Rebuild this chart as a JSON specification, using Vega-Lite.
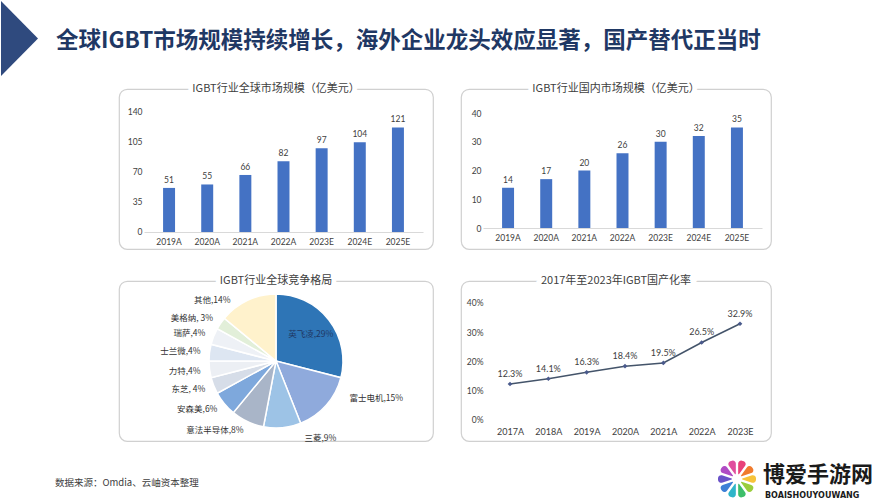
{
  "$schema": "https://vega.github.io/schema/vega-lite/v6.json",
  "background": "white",
  "padding": 0,
  "columns": 2,
  "spacing": {"row": 32, "column": 28},
  "bounds": "flush",
  "config": {
    "view": {"stroke": null},
    "font": "Noto Sans CJK SC",
    "axis": {"labelFont": "Lato", "labelColor": "#404040", "labelFontSize": 8.5, "grid": false, "ticks": false, "title": null}
  },
  "concat": [
    {
      "width": 314,
      "height": 160,
      "view": {"stroke": "#D0D0D0", "strokeWidth": 1.2, "cornerRadius": 8},
      "layer": [
        {
          "data": {"values": [
            {"year": "2019A", "v": 51}, {"year": "2020A", "v": 55}, {"year": "2021A", "v": 66},
            {"year": "2022A", "v": 82}, {"year": "2023E", "v": 97}, {"year": "2024E", "v": 104}, {"year": "2025E", "v": 121}
          ]},
          "encoding": {
            "x": {"field": "year", "type": "ordinal", "sort": null,
              "scale": {"range": [25, 304], "paddingInner": 0.686, "paddingOuter": 0.5},
              "axis": {"orient": "bottom", "offset": -17, "labelPadding": 5, "labelAngle": 0, "domain": true, "domainColor": "#D9D9D9"}},
            "y": {"field": "v", "type": "quantitative",
              "scale": {"domain": [-19.7, 165.5], "nice": false, "zero": false},
              "axis": {"values": [0, 35, 70, 105, 140], "offset": -27, "labelPadding": 4, "domain": false}}
          },
          "layer": [
            {"mark": {"type": "bar", "color": "#4472C4"}},
            {"mark": {"type": "text", "baseline": "bottom", "dy": -3, "font": "Lato", "fontSize": 8.5, "fill": "#404040"}, "encoding": {"text": {"field": "v"}}}
          ]
        },
        {"data": {"values": [{"t": "IGBT行业全球市场规模（亿美元）"}]}, "mark": {"type": "text", "x": 157, "y": 0, "align": "center", "baseline": "middle", "fontSize": 11, "fill": "white", "stroke": "white", "strokeWidth": 10}, "encoding": {"text": {"field": "t"}}},
        {"data": {"values": [{"t": "IGBT行业全球市场规模（亿美元）"}]}, "mark": {"type": "text", "x": 157, "y": 0, "align": "center", "baseline": "middle", "fontSize": 11, "fill": "#404040"}, "encoding": {"text": {"field": "t"}}},
        {"data": {"values": [{"t": "全球IGBT市场规模持续增长，海外企业龙头效应显著，国产替代正当时"}]}, "mark": {"type": "point", "shape": "M0,-1L0.987,0L0,1Z", "size": 5625, "filled": true, "fill": "#2F4A7E", "stroke": null, "opacity": 1, "x": -118, "y": -50.5}, "encoding": {}},
        {"data": {"values": [{"t": "全球IGBT市场规模持续增长，海外企业龙头效应显著，国产替代正当时"}]}, "mark": {"type": "text", "x": -63, "y": -48, "align": "left", "baseline": "middle", "fontSize": 22.5, "fontWeight": "bold", "fill": "#1F3864"}, "encoding": {"text": {"field": "t"}}}
      ]
    },
    {
      "width": 310,
      "height": 160,
      "view": {"stroke": "#D0D0D0", "strokeWidth": 1.2, "cornerRadius": 8},
      "layer": [
        {
          "data": {"values": [
            {"year": "2019A", "v": 14}, {"year": "2020A", "v": 17}, {"year": "2021A", "v": 20},
            {"year": "2022A", "v": 26}, {"year": "2023E", "v": 30}, {"year": "2024E", "v": 32}, {"year": "2025E", "v": 35}
          ]},
          "encoding": {
            "x": {"field": "year", "type": "ordinal", "sort": null,
              "scale": {"range": [22, 301], "paddingInner": 0.686, "paddingOuter": 0.5},
              "axis": {"orient": "bottom", "offset": -21, "labelPadding": 5, "labelAngle": 0, "domain": true, "domainColor": "#D9D9D9"}},
            "y": {"field": "v", "type": "quantitative",
              "scale": {"domain": [-7.3, 48.35], "nice": false, "zero": false},
              "axis": {"values": [0, 10, 20, 30, 40], "offset": -24, "labelPadding": 4, "domain": false}}
          },
          "layer": [
            {"mark": {"type": "bar", "color": "#4472C4"}},
            {"mark": {"type": "text", "baseline": "bottom", "dy": -3, "font": "Lato", "fontSize": 8.5, "fill": "#404040"}, "encoding": {"text": {"field": "v"}}}
          ]
        },
        {"data": {"values": [{"t": "IGBT行业国内市场规模（亿美元）"}]}, "mark": {"type": "text", "x": 155, "y": 0, "align": "center", "baseline": "middle", "fontSize": 11, "fill": "white", "stroke": "white", "strokeWidth": 10}, "encoding": {"text": {"field": "t"}}},
        {"data": {"values": [{"t": "IGBT行业国内市场规模（亿美元）"}]}, "mark": {"type": "text", "x": 155, "y": 0, "align": "center", "baseline": "middle", "fontSize": 11, "fill": "#404040"}, "encoding": {"text": {"field": "t"}}}
      ]
    },
    {
      "width": 314,
      "height": 160,
      "view": {"stroke": "#D0D0D0", "strokeWidth": 1.2, "cornerRadius": 8},
      "resolve": {"scale": {"theta": "independent"}},
      "layer": [
        {
          "data": {"values": [
            {"rank": 1, "company": "英飞凌", "share": 29, "label": "英飞凌,29%"},
            {"rank": 2, "company": "富士电机", "share": 15, "label": "富士电机,15%"},
            {"rank": 3, "company": "三菱", "share": 9, "label": "三菱,9%"},
            {"rank": 4, "company": "意法半导体", "share": 8, "label": "意法半导体,8%"},
            {"rank": 5, "company": "安森美", "share": 6, "label": "安森美,6%"},
            {"rank": 6, "company": "东芝", "share": 4, "label": "东芝, 4%"},
            {"rank": 7, "company": "力特", "share": 4, "label": "力特,4%"},
            {"rank": 8, "company": "士兰微", "share": 4, "label": "士兰微,4%"},
            {"rank": 9, "company": "瑞萨", "share": 4, "label": "瑞萨,4%"},
            {"rank": 10, "company": "美格纳", "share": 3, "label": "美格纳, 3%"},
            {"rank": 11, "company": "其他", "share": 14, "label": "其他,14%"}
          ]},
          "encoding": {
            "theta": {"field": "share", "type": "quantitative", "stack": true},
            "order": {"field": "rank", "type": "quantitative"}
          },
          "layer": [
            {"mark": {"type": "arc", "radius": 67, "stroke": "white", "strokeWidth": 1.5},
              "encoding": {"color": {"field": "company", "type": "nominal", "legend": null,
                "scale": {"domain": ["英飞凌", "富士电机", "三菱", "意法半导体", "安森美", "东芝", "力特", "士兰微", "瑞萨", "美格纳", "其他"],
                  "range": ["#2E75B6", "#8FAADC", "#9DC3E6", "#A9B5C8", "#7EA8DC", "#D6DDE8", "#ECEFF4", "#DDE6F2", "#EEF1F6", "#E2EFD9", "#FFF2CC"]}}}},
            {"mark": {"type": "text", "radius": 76, "align": "right", "baseline": "middle", "fontSize": 8.5, "fill": "#333333"},
              "encoding": {"text": {"field": "label"},
                "opacity": {"condition": {"test": "indexof(['意法半导体','安森美','东芝','力特','士兰微','瑞萨','美格纳'], datum.company) >= 0", "value": 1}, "value": 0}}},
            {"mark": {"type": "text", "radius": 76, "thetaOffset": -0.2, "align": "right", "baseline": "middle", "fontSize": 8.5, "fill": "#333333"},
              "encoding": {"text": {"field": "label"},
                "opacity": {"condition": {"test": "datum.company === '其他'", "value": 1}, "value": 0}}},
            {"mark": {"type": "text", "radius": 82, "thetaOffset": -0.26, "align": "left", "baseline": "middle", "fontSize": 8.5, "fill": "#333333"},
              "encoding": {"text": {"field": "label"},
                "opacity": {"condition": {"test": "indexof(['富士电机','三菱'], datum.company) >= 0", "value": 1}, "value": 0}}},
            {"mark": {"type": "text", "radius": 44, "align": "center", "baseline": "middle", "fontSize": 8.5, "fill": "#1F3864"},
              "encoding": {"text": {"field": "label"},
                "opacity": {"condition": {"test": "datum.company === '英飞凌'", "value": 1}, "value": 0}}}
          ]
        },
        {"data": {"values": [{"t": "IGBT行业全球竞争格局"}]}, "mark": {"type": "text", "x": 157, "y": 0, "align": "center", "baseline": "middle", "fontSize": 11, "fill": "white", "stroke": "white", "strokeWidth": 10}, "encoding": {"text": {"field": "t"}}},
        {"data": {"values": [{"t": "IGBT行业全球竞争格局"}]}, "mark": {"type": "text", "x": 157, "y": 0, "align": "center", "baseline": "middle", "fontSize": 11, "fill": "#404040"}, "encoding": {"text": {"field": "t"}}},
        {"data": {"values": [{"t": "数据来源：Omdia、云岫资本整理"}]}, "mark": {"type": "text", "x": -64, "y": 202, "align": "left", "baseline": "middle", "fontSize": 9.5, "fill": "#404040"}, "encoding": {"text": {"field": "t"}}},
        {"data": {"values": [
            {"petal": "p01", "v": 1}, {"petal": "p02", "v": 1}, {"petal": "p03", "v": 1}, {"petal": "p04", "v": 1},
            {"petal": "p05", "v": 1}, {"petal": "p06", "v": 1}, {"petal": "p07", "v": 1}, {"petal": "p08", "v": 1},
            {"petal": "p09", "v": 1}, {"petal": "p10", "v": 1}
          ]},
          "mark": {"type": "arc", "x": 618, "y": 198, "innerRadius": 5, "radius": 19, "padAngle": 0.12, "cornerRadius": 3},
          "encoding": {
            "theta": {"field": "v", "type": "quantitative", "stack": true},
            "order": {"field": "petal", "type": "ordinal"},
            "fill": {"field": "petal", "type": "nominal", "legend": null,
              "scale": {"domain": ["p01", "p02", "p03", "p04", "p05", "p06", "p07", "p08", "p09", "p10"],
                "range": ["#E8417A", "#F07B2E", "#F6C33A", "#9ACD3C", "#3DBE6A", "#2FB5C9", "#3C7FD6", "#6A52C8", "#B04BC4", "#E04E9E"]}}
          }
        },
        {"data": {"values": [{"t": "博爱手游网"}]}, "mark": {"type": "text", "x": 644, "y": 194, "align": "left", "baseline": "middle", "fontSize": 22, "fontWeight": "bold", "fill": "#1A1A1A"}, "encoding": {"text": {"field": "t"}}},
        {"data": {"values": [{"t": "BOAISHOUYOUWANG"}]}, "mark": {"type": "text", "x": 646, "y": 215, "align": "left", "baseline": "middle", "fontSize": 8, "fontWeight": "bold", "font": "DejaVu Sans", "fill": "#1A1A1A"}, "encoding": {"text": {"field": "t"}}}
      ]
    },
    {
      "width": 310,
      "height": 160,
      "view": {"stroke": "#D0D0D0", "strokeWidth": 1.2, "cornerRadius": 8},
      "layer": [
        {
          "data": {"values": [
            {"year": "2017A", "r": 0.123}, {"year": "2018A", "r": 0.141}, {"year": "2019A", "r": 0.163},
            {"year": "2020A", "r": 0.184}, {"year": "2021A", "r": 0.195}, {"year": "2022A", "r": 0.265}, {"year": "2023E", "r": 0.329}
          ]},
          "encoding": {
            "x": {"field": "year", "type": "ordinal", "sort": null,
              "scale": {"type": "point", "range": [49, 279], "padding": 0},
              "axis": {"orient": "bottom", "offset": -21, "labelPadding": 7, "labelAngle": 0, "domain": false, "labelFontSize": 9}},
            "y": {"field": "r", "type": "quantitative",
              "scale": {"domain": [-0.0718, 0.4752], "nice": false, "zero": false},
              "axis": {"values": [0, 0.1, 0.2, 0.3, 0.4], "format": ".0%", "offset": -26, "labelPadding": 4, "domain": false}}
          },
          "layer": [
            {"mark": {"type": "line", "color": "#44546A", "strokeWidth": 1.5}},
            {"mark": {"type": "point", "shape": "diamond", "filled": true, "size": 22, "color": "#4A5A8C", "opacity": 1}},
            {"mark": {"type": "text", "baseline": "bottom", "dy": -5, "font": "Lato", "fontSize": 9, "fill": "#404040"}, "encoding": {"text": {"field": "r", "format": ".1%"}}}
          ]
        },
        {"data": {"values": [{"t": "2017年至2023年IGBT国产化率"}]}, "mark": {"type": "text", "x": 155, "y": 0, "align": "center", "baseline": "middle", "fontSize": 11, "fill": "white", "stroke": "white", "strokeWidth": 10}, "encoding": {"text": {"field": "t"}}},
        {"data": {"values": [{"t": "2017年至2023年IGBT国产化率"}]}, "mark": {"type": "text", "x": 155, "y": 0, "align": "center", "baseline": "middle", "fontSize": 11, "fill": "#404040"}, "encoding": {"text": {"field": "t"}}}
      ]
    }
  ]
}
